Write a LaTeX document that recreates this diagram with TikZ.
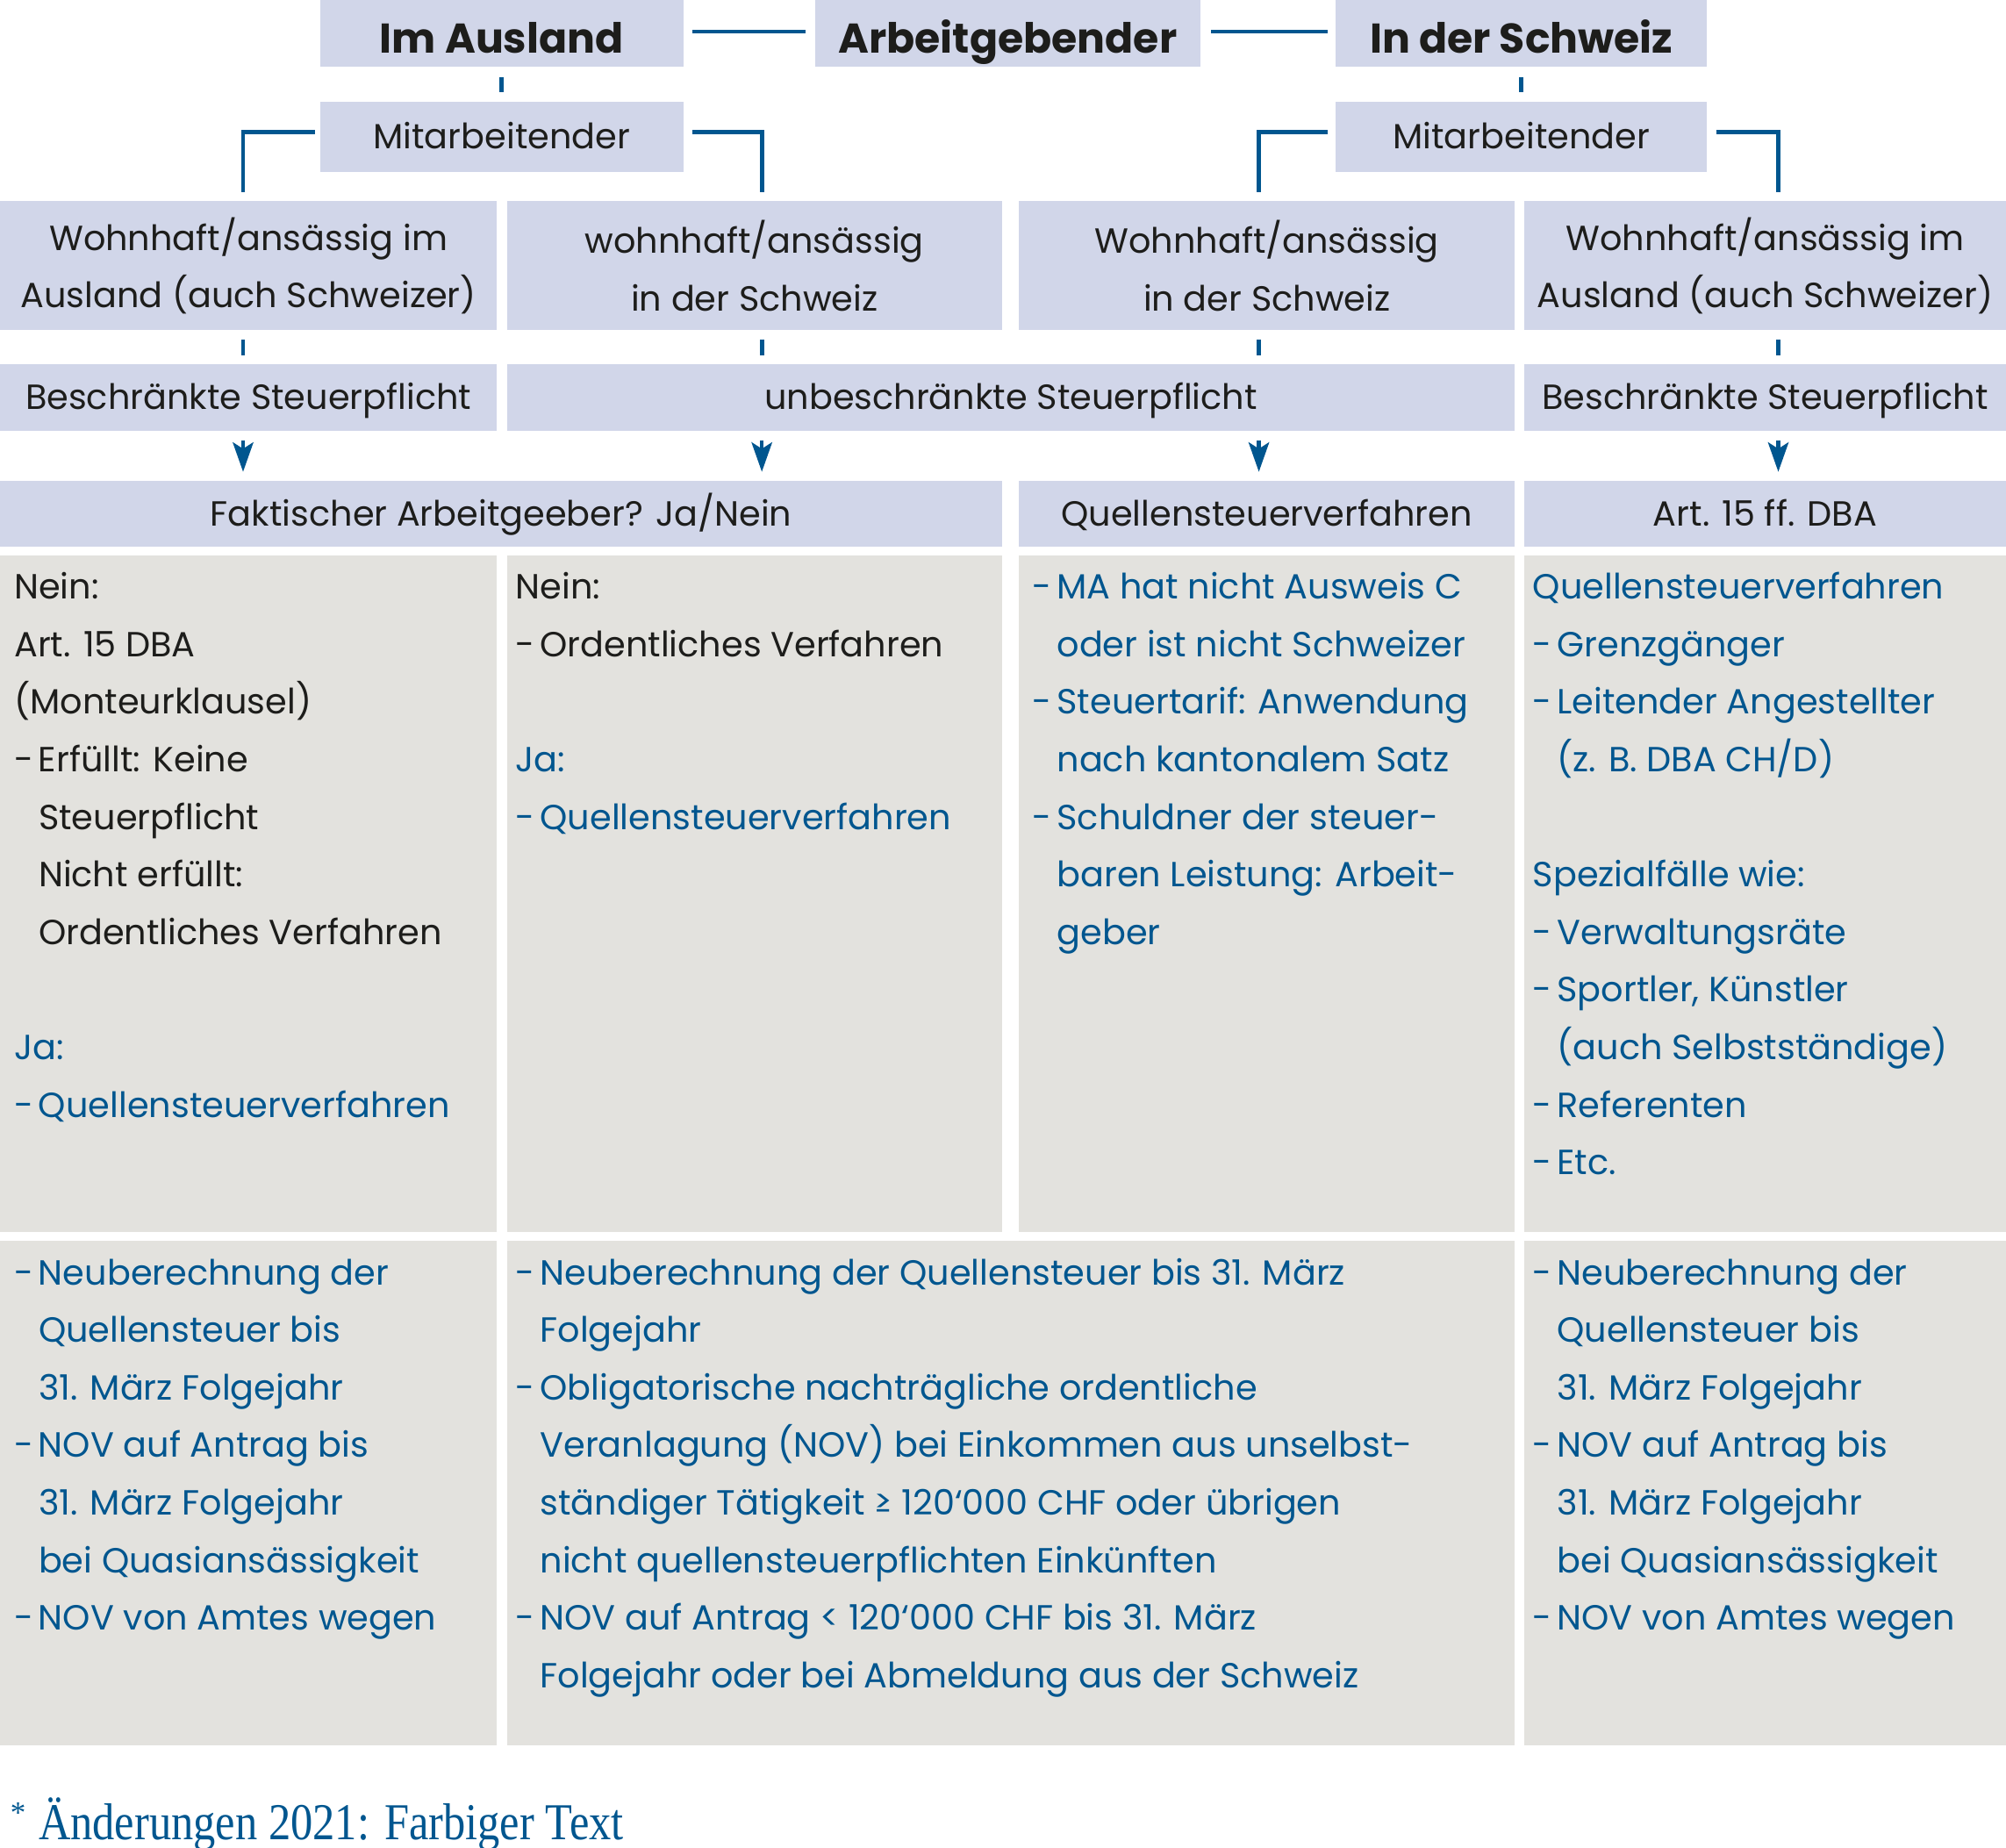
\documentclass[tikz,border=0pt]{standalone}
\usepackage{fontspec}
\newfontfamily\gotham{Poppins}
\newfontfamily\footfont{Liberation Serif}
\usetikzlibrary{arrows.meta}
\definecolor{hdr}{HTML}{D1D6E9}
\definecolor{gry}{HTML}{E3E2DE}
\definecolor{blu}{HTML}{00568F}
\definecolor{txt}{HTML}{1D1D1B}
\newcommand\dsh{\makebox[19pt][l]{-}}
\newcommand\ind{\hspace*{19pt}}
\newcommand\fl{\rule{0pt}{30pt}}
\newcommand\bl[1]{\textcolor{blu}{#1}}
\begin{document}
\begin{tikzpicture}[x=1pt,y=-1pt,
  hbox/.style={fill=hdr, inner sep=0pt, anchor=north west, align=center,
    font=\gotham\fontsize{27.3}{45}\selectfont, text=txt},
  sbox/.style={hbox, text height=19pt, text depth=0pt},
  tbox/.style={hbox, font=\gotham\bfseries\fontsize{32.5}{40}\selectfont,
    text height=30pt, text depth=0pt},
  gbox/.style={fill=gry, inner sep=0pt, anchor=north west},
  tblock/.style={anchor=north west, inner sep=0pt, align=left,
    font=\gotham\fontsize{27.3}{45}\selectfont, text=txt},
  con/.style={draw=blu, line width=3.4pt},
  arr/.style={draw=blu, line width=3pt, -{Stealth[length=23pt,width=16pt,inset=5pt]}}]
\useasboundingbox (0,0) rectangle (1568,1444);
% x positions of the vertical connectors
\coordinate (x1) at (190,0);
\coordinate (x2) at (595.5,0);
\coordinate (x3) at (984,0);
\coordinate (x4) at (1390,0);
% top row
\node[tbox, minimum width=284pt, minimum height=52pt] (ausland) at (250,0) {Im Ausland};
\node[tbox, minimum width=301pt, minimum height=52pt] (arbg) at (637,0) {Arbeitgebender};
\node[tbox, minimum width=290pt, minimum height=52pt] (schweiz) at (1044,0) {In der Schweiz};
\node[sbox, minimum width=284pt, minimum height=54.5pt] (mit1) at (250,79.5) {Mitarbeitender};
\node[sbox, minimum width=290pt, minimum height=54.5pt] (mit2) at (1044,79.5) {Mitarbeitender};
% residence row
\node[hbox, minimum width=388pt, minimum height=101pt] (w1) at (0,157) {Wohnhaft/ansässig im\\Ausland (auch Schweizer)};
\node[hbox, minimum width=387pt, minimum height=101pt] (w2) at (396,157) {wohnhaft/ansässig\\in der Schweiz};
\node[hbox, minimum width=388pt, minimum height=101pt] (w3) at (796,157) {Wohnhaft/ansässig\\in der Schweiz};
\node[hbox, minimum width=377pt, minimum height=101pt] (w4) at (1191,157) {Wohnhaft/ansässig im\\Ausland (auch Schweizer)};
% tax liability row
\node[sbox, minimum width=388pt, minimum height=52pt] (s1) at (0,284.6) {Beschränkte Steuerpflicht};
\node[sbox, minimum width=788pt, minimum height=52pt] (s23) at (396,284.6) {unbeschränkte Steuerpflicht};
\node[sbox, minimum width=377pt, minimum height=52pt] (s4) at (1191,284.6) {Beschränkte Steuerpflicht};
% procedure row
\node[sbox, minimum width=783pt, minimum height=51.5pt] (f12) at (0,375.6) {Faktischer Arbeitgeeber? Ja/Nein};
\node[sbox, minimum width=388pt, minimum height=51.5pt] (f3) at (796,375.6) {Quellensteuerverfahren};
\node[sbox, minimum width=377pt, minimum height=51.5pt] (f4) at (1191,375.6) {Art. 15 ff. DBA};
% grey boxes
\node[gbox, minimum width=388pt, minimum height=529pt] (g1) at (0,434) {};
\node[gbox, minimum width=387pt, minimum height=529pt] (g2) at (396,434) {};
\node[gbox, minimum width=388pt, minimum height=529pt] (g3) at (796,434) {};
\node[gbox, minimum width=377pt, minimum height=529pt] (g4) at (1191,434) {};
\node[gbox, minimum width=388pt, minimum height=394pt] (h1) at (0,970) {};
\node[gbox, minimum width=788pt, minimum height=394pt] (h23) at (396,970) {};
\node[gbox, minimum width=377pt, minimum height=394pt] (h4) at (1191,970) {};
% texts in grey boxes
\node[tblock] (tg1) at ([xshift=11pt,yshift=-4pt]g1.north west) {\fl Nein:\\
Art. 15 DBA\\
(Monteurklausel)\\
\dsh Erfüllt: Keine\\
\ind Steuerpflicht\\
\ind Nicht erfüllt:\\
\ind Ordentliches Verfahren\\
\mbox{}\\
\bl{Ja:}\\
\bl{\dsh Quellensteuerverfahren}};
\node[tblock] (tg2) at ([xshift=7pt,yshift=-4pt]g2.north west) {\fl Nein:\\
\dsh Ordentliches Verfahren\\
\mbox{}\\
\bl{Ja:}\\
\bl{\dsh Quellensteuerverfahren}};
\node[tblock, text=blu] (tg3) at ([xshift=11pt,yshift=-4pt]g3.north west) {\fl\dsh MA hat nicht Ausweis C\\
\ind oder ist nicht Schweizer\\
\dsh Steuertarif: Anwendung\\
\ind nach kantonalem Satz\\
\dsh Schuldner der steuer-\\
\ind baren Leistung: Arbeit-\\
\ind geber};
\node[tblock, text=blu] (tg4) at ([xshift=7pt,yshift=-4pt]g4.north west) {\fl Quellensteuerverfahren\\
\dsh Grenzgänger\\
\dsh Leitender Angestellter\\
\ind (z. B. DBA CH/D)\\
\mbox{}\\
Spezialfälle wie:\\
\dsh Verwaltungsräte\\
\dsh Sportler, Künstler\\
\ind (auch Selbstständige)\\
\dsh Referenten\\
\dsh Etc.};
\node[tblock, text=blu] (th1) at ([xshift=11pt,yshift=-4pt]h1.north west) {\fl\dsh Neuberechnung der\\
\ind Quellensteuer bis\\
\ind 31. März Folgejahr\\
\dsh NOV auf Antrag bis\\
\ind 31. März Folgejahr\\
\ind bei Quasiansässigkeit\\
\dsh NOV von Amtes wegen};
\node[tblock, text=blu] (th23) at ([xshift=7pt,yshift=-4pt]h23.north west) {\fl\dsh Neuberechnung der Quellensteuer bis 31. März\\
\ind Folgejahr\\
\dsh Obligatorische nachträgliche ordentliche\\
\ind Veranlagung (NOV) bei Einkommen aus unselbst-\\
\ind ständiger Tätigkeit ≥ 120‘000 CHF oder übrigen\\
\ind nicht quellensteuerpflichten Einkünften\\
\dsh NOV auf Antrag < 120‘000 CHF bis 31. März\\
\ind Folgejahr oder bei Abmeldung aus der Schweiz};
\node[tblock, text=blu] (th4) at ([xshift=7pt,yshift=-4pt]h4.north west) {\fl\dsh Neuberechnung der\\
\ind Quellensteuer bis\\
\ind 31. März Folgejahr\\
\dsh NOV auf Antrag bis\\
\ind 31. März Folgejahr\\
\ind bei Quasiansässigkeit\\
\dsh NOV von Amtes wegen};
% footer
\node[anchor=base west, inner sep=0pt, text=blu, font=\footfont\fontsize{40.5}{42}\selectfont] (foot) at (8,1438) {\makebox[22pt][l]{\fontsize{24}{24}\selectfont\raisebox{13pt}{*}}\scalebox{0.855}[1]{Änderungen 2021: Farbiger Text}};
% connectors
\draw[con] ([xshift=7pt,yshift=1.5pt]ausland.east) -- ([xshift=-7pt,yshift=1.5pt]arbg.west);
\draw[con] ([xshift=8pt,yshift=1.5pt]arbg.east) -- ([xshift=-6pt,yshift=1.5pt]schweiz.west);
\draw[con, shorten <=8pt, shorten >=7.5pt] (ausland.south) -- (mit1.north);
\draw[con, shorten <=8pt, shorten >=7.5pt] (schweiz.south) -- (mit2.north);
\draw[con] ([xshift=-4pt,yshift=3.5pt]mit1.west) -| ([yshift=7pt]w1.north -| x1);
\draw[con] ([xshift=7pt,yshift=3.5pt]mit1.east) -| ([yshift=7pt]w2.north -| x2);
\draw[con] ([xshift=-6pt,yshift=3.5pt]mit2.west) -| ([yshift=7pt]w3.north -| x3);
\draw[con] ([xshift=7pt,yshift=3.5pt]mit2.east) -| ([yshift=7pt]w4.north -| x4);
\draw[con] ([yshift=-7pt]w1.south -| x1) -- ([yshift=6.6pt]s1.north -| x1);
\draw[con] ([yshift=-7pt]w2.south -| x2) -- ([yshift=6.6pt]s23.north -| x2);
\draw[con] ([yshift=-7pt]w3.south -| x3) -- ([yshift=6.6pt]s23.north -| x3);
\draw[con] ([yshift=-7pt]w4.south -| x4) -- ([yshift=6.6pt]s4.north -| x4);
\draw[arr] ([yshift=-7pt]s1.south -| x1) -- ([yshift=6.8pt]f12.north -| x1);
\draw[arr] ([yshift=-7pt]s23.south -| x2) -- ([yshift=6.8pt]f12.north -| x2);
\draw[arr] ([yshift=-7pt]s23.south -| x3) -- ([yshift=6.8pt]f3.north -| x3);
\draw[arr] ([yshift=-7pt]s4.south -| x4) -- ([yshift=6.8pt]f4.north -| x4);
\end{tikzpicture}
\end{document}
